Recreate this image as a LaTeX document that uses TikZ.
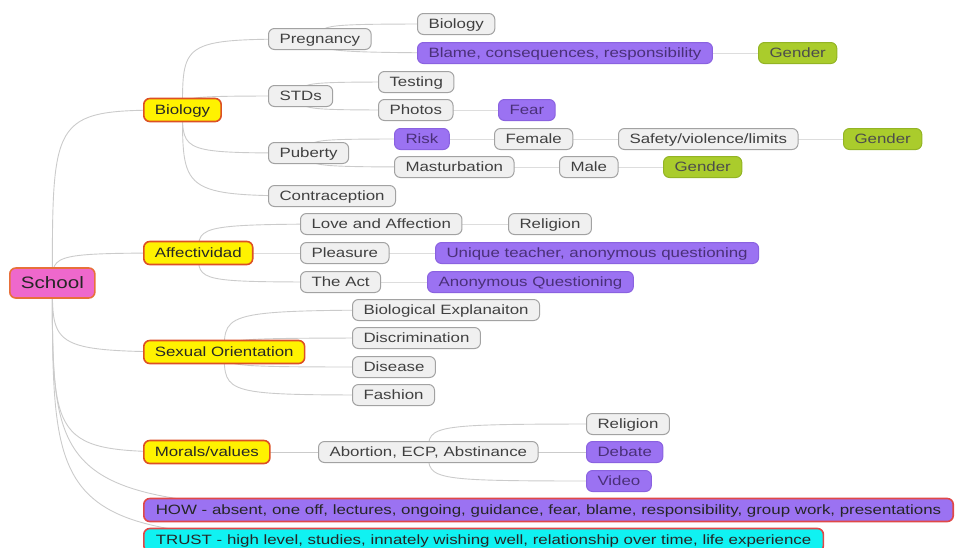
\documentclass[tikz,border=0pt]{standalone}
\usepackage{fontspec}
\setmainfont{Liberation Sans}[FakeStretch=1.25]
\usepackage{tikz}
\usetikzlibrary{backgrounds}
\definecolor{rootpink}{HTML}{EE68CC}
\definecolor{rootedge}{HTML}{E8703A}
\definecolor{topedge}{HTML}{DC5024}
\definecolor{boxgray}{HTML}{F0F0F0}
\definecolor{edgegray}{HTML}{A2A2A2}
\definecolor{linegray}{HTML}{CBCBCB}
\definecolor{lilac}{HTML}{9B72F2}
\definecolor{lilacedge}{HTML}{8A62E0}
\definecolor{lilactext}{HTML}{4A3078}
\definecolor{lime}{HTML}{AACC2C}
\definecolor{limeedge}{HTML}{93B424}
\definecolor{aqua}{HTML}{10F2F2}
\definecolor{howedge}{HTML}{E04848}

\begin{document}
\begin{tikzpicture}
		[x=1pt, y=-1pt, font=\fontsize{13.5}{15}\selectfont,
		root/.style		= {rectangle, rounded corners=6pt, draw=rootedge, line width=1.6pt, fill=rootpink, text=black!85, anchor=west,
							font=\fontsize{16.5}{18}\selectfont, minimum height=30pt, inner xsep=11pt, text height=12.5pt, text depth=1.5pt},
		topic/.style	= {rectangle, rounded corners=6pt, draw=topedge, line width=1.6pt, fill=yellow, text=black!85, anchor=west,
							minimum height=23pt, inner xsep=11pt, text height=10.8pt, text depth=1.5pt},
		sub/.style		= {rectangle, rounded corners=6pt, draw=edgegray, line width=1pt, fill=boxgray, text=black!75, anchor=west,
							minimum height=21pt, inner xsep=11pt, text height=10.8pt, text depth=1.5pt},
		hot/.style		= {sub, draw=lilacedge, fill=lilac, text=lilactext},
		tag/.style		= {sub, draw=limeedge, fill=lime, text=black!70},
		branch/.style	= {draw=linegray, line width=0.9pt, to path={.. controls (\tikztostart |- \tikztotarget) .. (\tikztotarget)}}]
		
		\useasboundingbox (0, 0) rectangle (957, 547);
		
		\node at (9, 283)		[root]		(school)	{School};
		
		\node at (143, 110)		[topic]		(bio)		{Biology};
		\node at (143, 253)		[topic]		(aff)		{Affectividad};
		\node at (143, 352)		[topic]		(sexor)		{Sexual Orientation};
		\node at (143, 452)		[topic]		(moral)		{Morals/values};
		\node at (143, 510)		[topic, fill=lilac, draw=howedge, inner xsep=12pt]	(how)	{HOW - absent, one off, lectures, ongoing, guidance, fear, blame, responsibility, group work, presentations};
		\node at (143, 540)		[topic, fill=aqua, draw=howedge, inner xsep=12pt]	(trust)	{TRUST - high level, studies, innately wishing well, relationship over time, life experience};
		
		\node at (268, 39)		[sub]		(preg)		{Pregnancy};
		\node at (268, 96)		[sub]		(stds)		{STDs};
		\node at (268, 153)		[sub]		(pub)		{Puberty};
		\node at (268, 196)		[sub]		(contra)	{Contraception};
		
		\node at (417, 24)		[sub]		(pbio)		{Biology};
		\node at (417, 53)		[hot]		(blame)		{Blame, consequences, responsibility};
		\node at (758, 53)		[tag]		(gen1)		{Gender};
		
		\node at (378, 82)		[sub]		(test)		{Testing};
		\node at (378, 110)		[sub]		(photo)		{Photos};
		\node at (498, 110)		[hot]		(fear)		{Fear};
		
		\node at (394, 139)		[hot]		(risk)		{Risk};
		\node at (494, 139)		[sub]		(fem)		{Female};
		\node at (618, 139)		[sub]		(safe)		{Safety/violence/limits};
		\node at (843, 139)		[tag]		(gen2)		{Gender};
		\node at (394, 167)		[sub]		(mast)		{Masturbation};
		\node at (559, 167)		[sub]		(male)		{Male};
		\node at (663, 167)		[tag]		(gen3)		{Gender};
		
		\node at (300, 224)		[sub]		(love)		{Love and Affection};
		\node at (508, 224)		[sub]		(rel1)		{Religion};
		\node at (300, 253)		[sub]		(pleas)		{Pleasure};
		\node at (435, 253)		[hot]		(uniq)		{Unique teacher, anonymous questioning};
		\node at (300, 282)		[sub]		(act)		{The Act};
		\node at (427, 282)		[hot]		(anon)		{Anonymous Questioning};
		
		\node at (352, 310)		[sub]		(expl)		{Biological Explanaiton};
		\node at (352, 338)		[sub]		(discr)		{Discrimination};
		\node at (352, 367)		[sub]		(dis)		{Disease};
		\node at (352, 395)		[sub]		(fash)		{Fashion};
		
		\node at (318, 452)		[sub]		(abort)		{Abortion, ECP, Abstinance};
		\node at (586, 424)		[sub]		(rel2)		{Religion};
		\node at (586, 452)		[hot]		(debate)	{Debate};
		\node at (586, 481)		[hot]		(video)		{Video};
		
		\begin{scope}[on background layer]
		\draw [branch] (school.center) to (bio.center);
		\draw [branch] (school.center) to (aff.center);
		\draw [branch] (school.center) to (sexor.center);
		\draw [branch] (school.center) to (moral.center);
		\draw [branch] (school.center) to (how.center);
		\draw [branch] (school.center) to (trust.center);
		
		\draw [branch] (bio.center) to (preg.center);
		\draw [branch] (bio.center) to (stds.center);
		\draw [branch] (bio.center) to (pub.center);
		\draw [branch] (bio.center) to (contra.center);
		
		\draw [branch] (preg.center) to (pbio.center);
		\draw [branch] (preg.center) to (blame.center);
		\draw [branch] (blame.center) to (gen1.center);
		\draw [branch] (stds.center) to (test.center);
		\draw [branch] (stds.center) to (photo.center);
		\draw [branch] (photo.center) to (fear.center);
		\draw [branch] (pub.center) to (risk.center);
		\draw [branch] (pub.center) to (mast.center);
		\draw [branch] (risk.center) to (fem.center);
		\draw [branch] (fem.center) to (safe.center);
		\draw [branch] (safe.center) to (gen2.center);
		\draw [branch] (mast.center) to (male.center);
		\draw [branch] (male.center) to (gen3.center);
		
		\draw [branch] (aff.center) to (love.center);
		\draw [branch] (aff.center) to (pleas.center);
		\draw [branch] (aff.center) to (act.center);
		\draw [branch] (love.center) to (rel1.center);
		\draw [branch] (pleas.center) to (uniq.center);
		\draw [branch] (act.center) to (anon.center);
		
		\draw [branch] (sexor.center) to (expl.center);
		\draw [branch] (sexor.center) to (discr.center);
		\draw [branch] (sexor.center) to (dis.center);
		\draw [branch] (sexor.center) to (fash.center);
		
		\draw [branch] (moral.center) to (abort.center);
		\draw [branch] (abort.center) to (rel2.center);
		\draw [branch] (abort.center) to (debate.center);
		\draw [branch] (abort.center) to (video.center);
		\end{scope}
		
\end{tikzpicture}
\end{document}
